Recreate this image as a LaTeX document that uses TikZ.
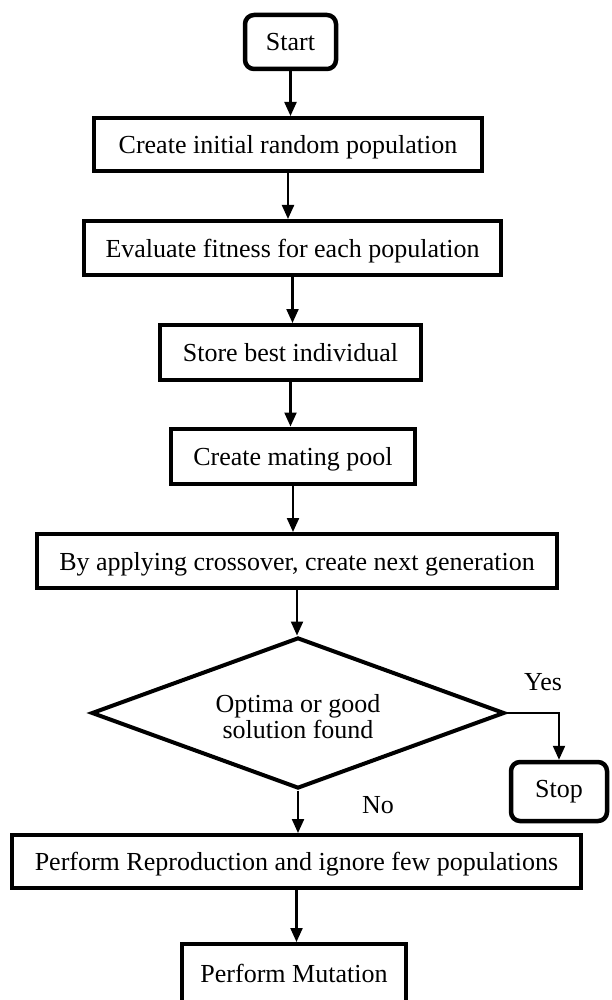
\documentclass[tikz,border=0pt]{standalone}
\usepackage{fontspec}
\setmainfont{Liberation Serif}
\usetikzlibrary{arrows.meta,shapes.geometric}
\begin{document}
\begin{tikzpicture}[x=1pt,y=-1pt,
  every node/.style={font=\fontsize{26}{26}\selectfont},
  procbox/.style={draw, line width=4pt, rectangle, inner sep=0pt, align=center, text height=18pt, text depth=0pt},
  termbox/.style={draw, line width=4.5pt, rounded corners=9pt, inner sep=0pt},
  decbox/.style={draw, line width=4pt, diamond, inner sep=0pt, aspect=2.7},
  dtext/.style={align=center, inner sep=0pt},
  lbl/.style={inner sep=0pt, text height=18pt, text depth=0pt},
  arr/.style={line width=2.2pt, -{Triangle[width=12pt,length=14pt]}}]
\useasboundingbox (0,0) rectangle (611,1000);
\fill[white] (0,0) rectangle (611,1000);
\node[termbox, minimum width=91pt, minimum height=54pt] (start) at (290.5,42) {Start};
\node[procbox, minimum width=388pt, minimum height=53pt] (b1) at (288,144.5) {Create initial random population};
\node[procbox, minimum width=417pt, minimum height=54pt] (b2) at (292.5,248) {Evaluate fitness for each population};
\node[procbox, minimum width=261pt, minimum height=55pt] (b3) at (290.5,352.5) {Store best individual};
\node[procbox, minimum width=244pt, minimum height=55pt] (b4) at (293,456) {Create mating pool};
\node[procbox, minimum width=520pt, minimum height=54pt] (b5) at (297,561) {By applying crossover, create next generation};
\node[decbox, minimum width=413pt, minimum height=151pt] (d) at (298,713) {};
\node[dtext] (dt) at (298,717) {Optima or good\\solution found};
\node[termbox, minimum width=96pt, minimum height=59pt] (stop) at (559,791.5) {Stop};
\node[procbox, minimum width=569pt, minimum height=53pt] (b6) at (296.5,861.5) {Perform Reproduction and ignore few populations};
\node[procbox, minimum width=224pt, minimum height=58pt] (b7) at (294,973) {Perform Mutation};
\node[lbl] (yes) at (543,681) {Yes};
\node[lbl] (no) at (378,804) {No};
\draw[arr] (start.south) -- (start.south |- b1.north);
\draw[arr] (b1.south) -- (b1.south |- b2.north);
\draw[arr] (b2.south) -- (b2.south |- b3.north);
\draw[arr] (b3.south) -- (b3.south |- b4.north);
\draw[arr] (b4.south) -- (b4.south |- b5.north);
\draw[arr] (b5.south) -- (b5.south |- d.north);
\draw[arr] (d.east) -| (stop.north);
\draw[arr] (d.south) -- (d.south |- b6.north);
\draw[arr] (b6.south) -- (b6.south |- b7.north);
\end{tikzpicture}
\end{document}
